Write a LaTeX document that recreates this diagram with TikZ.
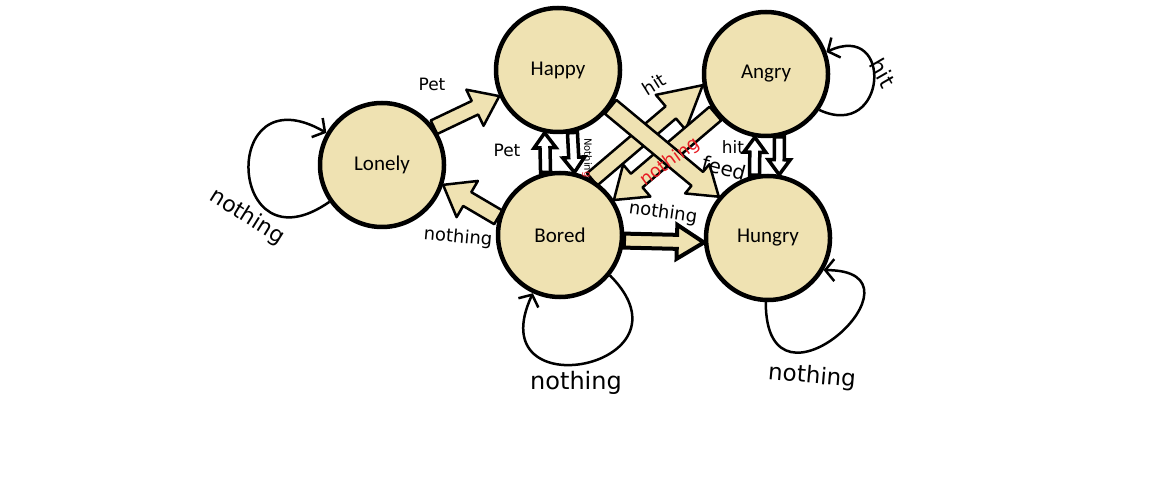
\documentclass[tikz,border=0pt]{standalone}
\usepackage{fontspec}
\setmainfont{Carlito}
\newfontfamily\handfont{DejaVu Sans}
\usetikzlibrary{arrows.meta,calc,backgrounds}
\definecolor{statetan}{RGB}{239,226,178}
\definecolor{notered}{RGB}{232,28,36}
\newcommand{\fatarrow}[6][]{%
  \coordinate (fa-s) at (#2);
  \coordinate (fa-e) at (#3);
  \coordinate (fa-n) at ($(fa-e)!#6!(fa-s)$);
  \draw[#1] ($(fa-s)!#4!90:(fa-e)$) -- ($(fa-n)!#4!90:(fa-e)$) -- ($(fa-n)!#5!90:(fa-e)$)
    -- (fa-e) -- ($(fa-n)!#5!-90:(fa-e)$) -- ($(fa-n)!#4!-90:(fa-e)$) -- ($(fa-s)!#4!-90:(fa-e)$) -- cycle;
}
\begin{document}
\begin{tikzpicture}[x=1pt,y=1pt,
  state/.style={circle, draw, line width=4.5pt, fill=statetan, minimum size=124pt, inner sep=0pt,
    font=\fontsize{21}{24}\selectfont},
  note/.style={font=\handfont\fontsize{#1}{#1}\selectfont, inner sep=0pt},
  note/.default=18,
  fat/.style={draw, fill=statetan, line width=2.5pt, line join=round},
  bold/.style={draw, fill=white, line width=3.5pt, line join=miter},
  boldtan/.style={draw, fill=statetan, line width=4pt, line join=miter},
  selfloop/.style={line width=2.5pt, -{Straight Barb[length=9pt,width=22pt]}}]
\useasboundingbox (0,0) rectangle (1174,501);
\node[state] (happy) at (558,431) {Happy};
\node[state] (angry) at (766,427) {Angry};
\node[state] (lonely) at (382,336) {Lonely};
\node[state] (bored) at (560,266) {Bored};
\node[state] (hungry) at (768,263) {Hungry};
\begin{scope}[on background layer]
  \fill[white] (0,0) rectangle (1174,501);
  \fatarrow[fat]{lonely.36}{happy.204}{7.5pt}{20pt}{27pt}
  \fatarrow[fat]{bored.164}{lonely.-18}{8pt}{21pt}{28pt}
  \fatarrow[bold]{bored.103}{happy.258}{5pt}{11pt}{15pt}
  \fatarrow[bold]{happy.283}{bored.77}{5pt}{11pt}{15pt}
  \fatarrow[fat]{bored.60}{angry.190}{8pt}{23pt}{42pt}
  \fatarrow[fat]{angry.218}{bored.33}{9pt}{21pt}{30pt}
  \fatarrow[fat]{happy.-35}{hungry.140}{9pt}{19pt}{28pt}
  \fatarrow[bold]{hungry.102}{angry.260}{5pt}{11pt}{15pt}
  \fatarrow[bold]{angry.282}{hungry.80}{5pt}{11pt}{15pt}
  \fatarrow[boldtan]{bored.-5}{hungry.184}{7pt}{17pt}{27pt}
  \draw[selfloop] (lonely.215) .. controls +(215:125) and +(150:125) .. (lonely.150);
  \draw[selfloop] (angry.-34) .. controls +(-25:75) and +(25:75) .. (angry.20);
  \draw[selfloop] (bored.-39) .. controls +(-45:130) and +(245:130) .. (bored.245);
  \draw[selfloop] (hungry.268) .. controls +(0,-130) and +(115,0) .. (hungry.-30);
\end{scope}
\node[note=17] (petlh) at (432,417) {Pet};
\node[note=17] (petbh) at (507,351) {Pet};
\node[note=10, rotate=-90] (nothhb) at (587,343) {Nothin\textcolor{notered}{g}};
\node[note=18, rotate=32] (hitba) at (654,417) {hit};
\node[note=18, rotate=36, text=notered] (nothab) at (670,339) {nothing};
\node[note=20, rotate=-15] (feedhh) at (724,333) {feed};
\node[note=17] (hitha) at (733,354) {hit};
\node[note=18, rotate=-8] (nothbh) at (663,288) {nothing};
\node[note=18, rotate=-5] (nothbl) at (458,263) {nothing};
\node[note=22, rotate=-32] (nothl) at (247,284) {nothing};
\node[note=22, rotate=-60] (hita) at (883,428) {hit};
\node[note=24] (nothb) at (576,118) {nothing};
\node[note=23, rotate=-5] (nothh) at (812,124) {nothing};
\end{tikzpicture}
\end{document}
